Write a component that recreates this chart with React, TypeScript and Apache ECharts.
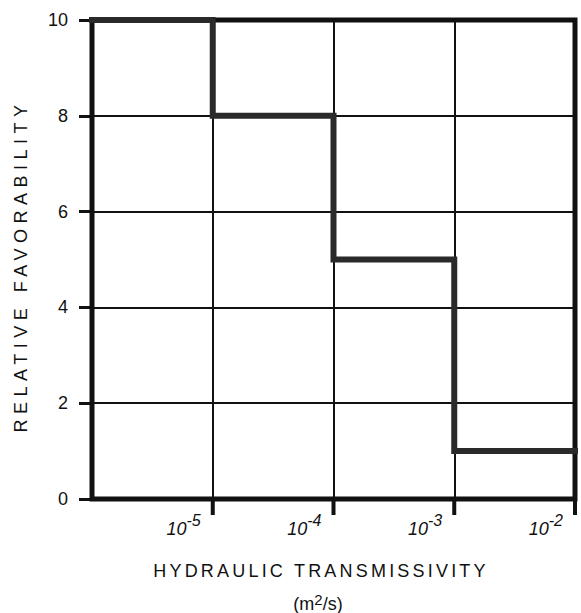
import React, { useEffect, useRef } from "react";
import * as echarts from "echarts";

// ---- data ----
const transmissivity = [1e-6, 1e-5, 1e-4, 1e-3, 1e-2]; // m^2/s (step edges)
const favorability = [10, 8, 5, 1, 1]; // value held until next edge
const xTickValues = [1e-5, 1e-4, 1e-3, 1e-2];
const xTickExponents = ["-5", "-4", "-3", "-2"];
const yTickInterval = 2;
const yMin = 0;
const yMax = 10;

const FONT = "Liberation Sans";
const INK = "#111111";

const css = `
text[style*="SpacedX"]{letter-spacing:3.2px;}
text[style*="SpacedY"]{letter-spacing:5.5px;}
`;

export default function App() {
  const ref = useRef<HTMLDivElement>(null);

  useEffect(() => {
    if (!ref.current) return;
    const chart = echarts.init(ref.current, null, { renderer: "svg" });

    const stepData = transmissivity.map((x, i) => [x, favorability[i]]);
    const tickData = xTickValues.map((x) => [x, yMin]);

    const option: any = {
      animation: false,
      backgroundColor: "#ffffff",
      grid: {
        left: 92,
        top: 20,
        width: 483,
        height: 479,
        show: true,
        borderColor: INK,
        borderWidth: 5,
        backgroundColor: "transparent",
      },
      xAxis: {
        type: "log",
        logBase: 10,
        min: transmissivity[0],
        max: transmissivity[transmissivity.length - 1],
        axisLine: { show: false },
        axisTick: { show: false },
        splitLine: { show: true, lineStyle: { color: INK, width: 2 } },
        axisLabel: {
          showMinLabel: false,
          align: "right",
          margin: 12,
          padding: [0, 12, 0, 0],
          formatter: (v: number) => {
            const idx = xTickValues.findIndex(
              (t) => Math.abs(Math.log10(t) - Math.log10(v)) < 1e-6
            );
            if (idx < 0) return "";
            return `{b|10}{s|${xTickExponents[idx]}}`;
          },
          rich: {
            b: {
              fontSize: 18,
              fontFamily: FONT,
              fontStyle: "italic",
              color: INK,
              padding: [9, 0, 0, 0],
            },
            s: {
              fontSize: 16,
              fontFamily: FONT,
              fontStyle: "italic",
              color: INK,
              padding: [0, 0, 9, 0],
            },
          },
        },
      },
      yAxis: {
        type: "value",
        min: yMin,
        max: yMax,
        interval: yTickInterval,
        axisLine: { show: false },
        axisTick: { show: true, length: 13, lineStyle: { color: INK, width: 3 } },
        splitLine: { show: true, lineStyle: { color: INK, width: 2 } },
        axisLabel: {
          margin: 24,
          fontSize: 18,
          fontFamily: FONT,
          color: INK,
        },
      },
      series: [
        {
          type: "line",
          data: stepData,
          step: "end",
          showSymbol: false,
          symbol: "none",
          clip: false,
          silent: true,
          lineStyle: { color: "#2a2a2a", width: 6, cap: "square", join: "miter" },
          z: 5,
        },
        {
          type: "custom",
          data: tickData,
          clip: false,
          silent: true,
          z: 4,
          renderItem: (params: any, api: any) => {
            const p = api.coord([api.value(0), api.value(1)]);
            return {
              type: "line",
              shape: { x1: p[0], y1: p[1], x2: p[0], y2: p[1] + 16 },
              style: { stroke: INK, lineWidth: 4 },
            };
          },
        },
      ],
      graphic: [
        {
          type: "text",
          x: 321,
          y: 571,
          style: {
            text: "HYDRAULIC TRANSMISSIVITY",
            font: `18px "${FONT}", SpacedX`,
            fill: INK,
            align: "center",
            verticalAlign: "middle",
            textAlign: "center",
            textVerticalAlign: "middle",
          },
        },
        {
          type: "text",
          x: 318,
          y: 602,
          style: {
            text: "{a|(m}{s|2}{a|/s)}",
            align: "center",
            verticalAlign: "middle",
            textAlign: "center",
            textVerticalAlign: "middle",
            rich: {
              a: { fontSize: 18, fontFamily: FONT, fill: INK, padding: [4, 0, 0, 0] },
              s: { fontSize: 15, fontFamily: FONT, fill: INK, padding: [0, 0, 5, 0] },
            },
          },
        },
        {
          type: "text",
          x: 21,
          y: 266,
          rotation: Math.PI / 2,
          style: {
            text: "RELATIVE FAVORABILITY",
            font: `18px "${FONT}", SpacedY`,
            fill: INK,
            align: "center",
            verticalAlign: "middle",
            textAlign: "center",
            textVerticalAlign: "middle",
          },
        },
      ],
    };

    chart.setOption(option);
    return () => chart.dispose();
  }, []);

  return (
    <>
      <style>{css}</style>
      <div
        ref={ref}
        style={{
          position: "fixed",
          left: 0,
          top: 0,
          width: 581,
          height: 613,
          background: "#ffffff",
        }}
      />
    </>
  );
}
